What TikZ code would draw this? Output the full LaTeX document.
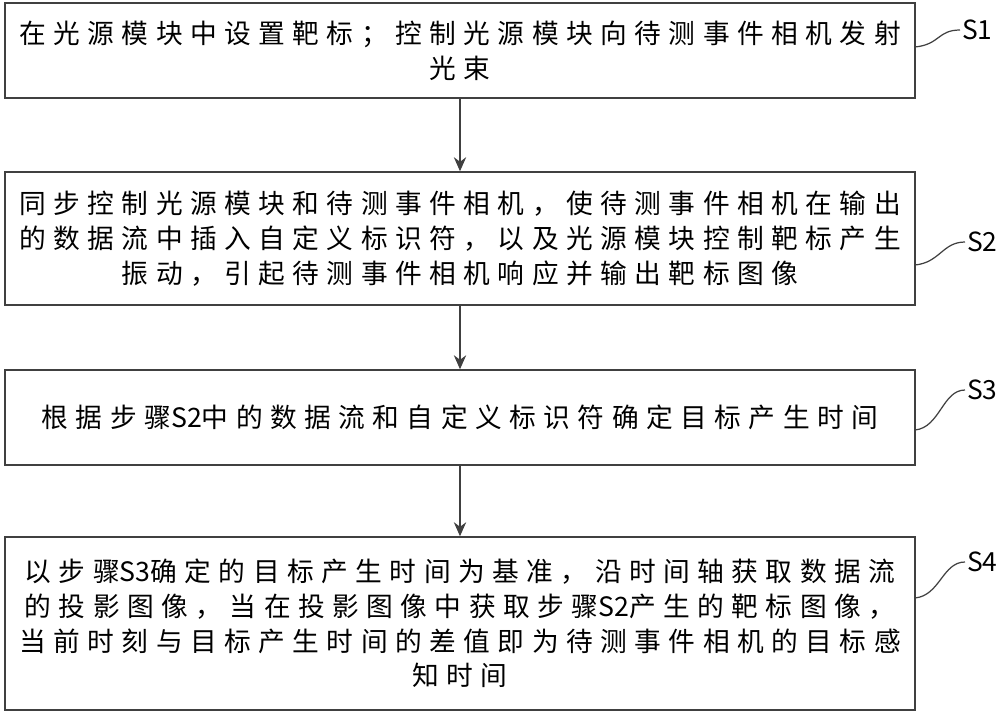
\documentclass[tikz,border=0pt]{standalone}
\usepackage{fontspec}
\setmainfont{Noto Sans CJK SC}[LetterSpace=28]
\newfontfamily\labfont{Noto Sans CJK SC}
\newcommand{\stp}[1]{{\labfont #1}}
\usetikzlibrary{arrows.meta}
\begin{document}
\begin{tikzpicture}
[
    stepbox/.style={rectangle, draw=black!75, line width=0.8pt, minimum width=18.2cm,
    align=center, font=\fontsize{15.2}{19.8}\selectfont},
    arr/.style={-{Stealth[length=8pt,width=7pt]}, draw=black!75, line width=0.9pt},
    lab/.style={font=\labfont\fontsize{15}{18}\selectfont, inner sep=1pt},
    sq/.style={draw=black!75, line width=0.7pt}]
    \useasboundingbox (0,0) rectangle (20,-14.54);
    \node[stepbox, minimum height=1.9cm] (b1) at (9.2,-1.01)
        {在光源模块中设置靶标；控制光源模块向待测事件相机发射\\光束};
    \node[stepbox, minimum height=2.66cm] (b2) at (9.2,-4.77)
        {同步控制光源模块和待测事件相机，使待测事件相机在输出\\的数据流中插入自定义标识符，以及光源模块控制靶标产生\\振动，引起待测事件相机响应并输出靶标图像};
    \node[stepbox, minimum height=1.9cm] (b3) at (9.2,-8.35)
        {根据步骤\stp{S2}中的数据流和自定义标识符确定目标产生时间};
    \node[stepbox, minimum height=3.46cm] (b4) at (9.2,-12.47)
        {以步骤\stp{S3}确定的目标产生时间为基准，沿时间轴获取数据流\\的投影图像，当在投影图像中获取步骤\stp{S2}产生的靶标图像，\\当前时刻与目标产生时间的差值即为待测事件相机的目标感\\知时间};
    % arrows
    \draw[arr] (b1.south) -- (b2.north);
    \draw[arr] (b2.south) -- (b3.north);
    \draw[arr] (b3.south) -- (b4.north);
    % step labels
    \node[lab, anchor=west] (l1) at (19.2,-0.6) {S1};
    \node[lab, anchor=west] (l2) at (19.3,-4.84) {S2};
    \node[lab, anchor=west] (l3) at (19.3,-7.8) {S3};
    \node[lab, anchor=west] (l4) at (19.3,-11.24) {S4};
    \coordinate (c1) at (18.3,-0.94);
    \coordinate (c2) at (18.3,-5.3);
    \coordinate (c3) at (18.3,-8.6);
    \coordinate (c4) at (18.3,-11.96);
    \foreach \i in {1,...,4}
        \draw[sq] (c\i) .. controls +(0.5,0.05) and +(-0.45,0) .. (l\i.west);
\end{tikzpicture}
\end{document}
